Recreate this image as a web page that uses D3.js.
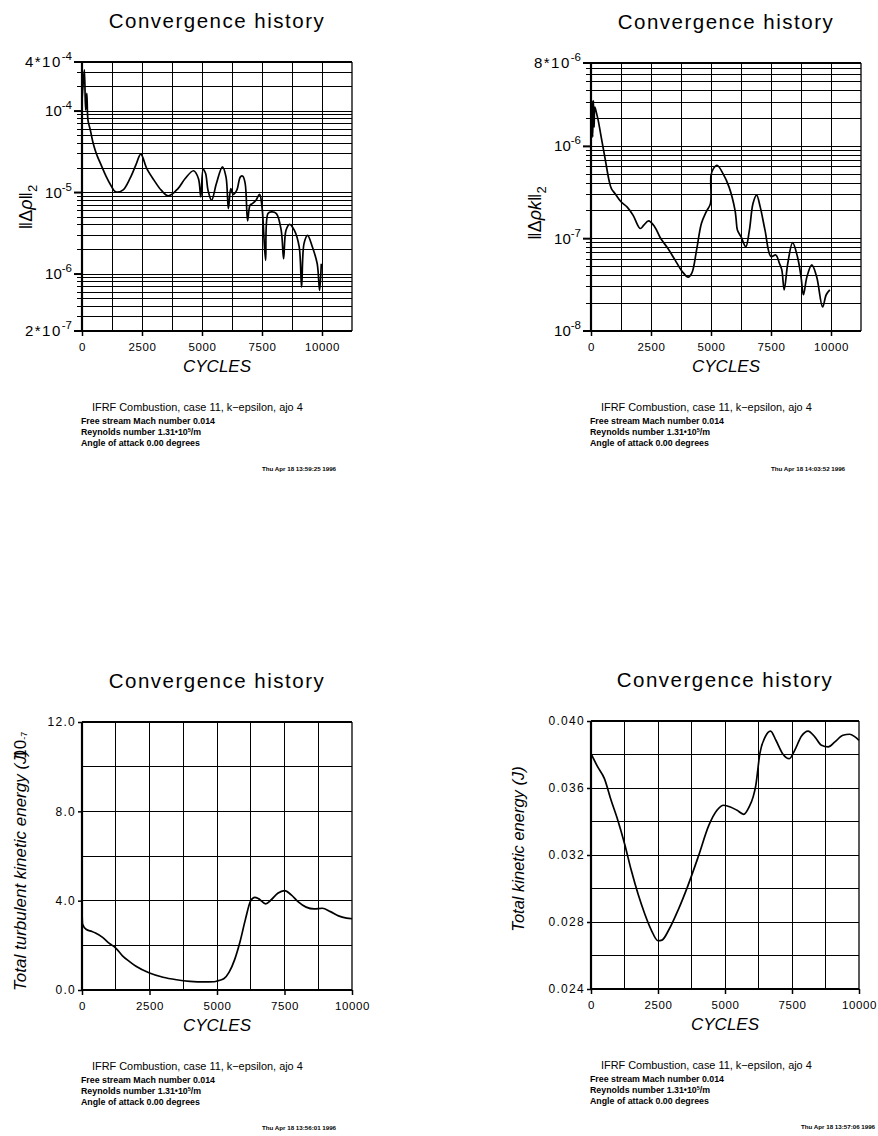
<!DOCTYPE html>
<html>
<head>
<meta charset="utf-8">
<script src="https://cdn.jsdelivr.net/npm/d3@7"></script>
<style>
body { margin: 0; background: #fff; }
text { font-family: "Liberation Sans", Arial, sans-serif; fill: #000; }
</style>
</head>
<body>
<script>
var svgWidth = 878;
var svgHeight = 1136;

// x axis labels, same on every panel
var cycleTicks = [0, 2500, 5000, 7500, 10000];

// panel 1 : density residual
var rhoCycles = [0, 50, 100, 150, 200, 250, 350, 450, 550, 650, 800, 1000, 1200, 1400, 1700, 2000, 2250, 2450, 2700, 3000,
  3300, 3600, 4000, 4300, 4650, 4850, 4950, 5050, 5150, 5250, 5400, 5600, 5850, 6000, 6100, 6200, 6300, 6450, 6600, 6700,
  6800, 6900, 7000, 7100, 7250, 7400, 7500, 7650, 7750, 7900, 8100, 8300, 8400, 8500, 8650, 8850, 9050, 9150, 9250, 9400,
  9600, 9800, 9900, 9970];
var rhoRes = [1.36e-4, 2.2e-4, 3.2e-4, 1.03e-4, 1.65e-4, 7.7e-5, 5.8e-5, 4.2e-5, 3.3e-5, 2.74e-5, 2.17e-5, 1.59e-5, 1.23e-5, 1.02e-5, 1.07e-5, 1.49e-5, 2.2e-5, 2.96e-5, 1.97e-5, 1.42e-5,
  1.07e-5, 9.1e-6, 1.12e-5, 1.49e-5, 1.85e-5, 1.49e-5, 8.85e-6, 1.92e-5, 1.71e-5, 1.07e-5, 8.05e-6, 1.29e-5, 2.07e-5, 1.56e-5, 6.36e-6, 1.12e-5, 9.5e-6, 1.07e-5, 1.56e-5, 1.59e-5,
  1.29e-5, 4.49e-6, 6.99e-6, 7.33e-6, 8.05e-6, 9.5e-6, 6.67e-6, 1.47e-6, 5.52e-6, 5.78e-6, 5.52e-6, 3.44e-6, 1.54e-6, 3.44e-6, 4.08e-6, 3.44e-6, 2.15e-6, 6.9e-7, 2.36e-6, 2.99e-6,
  2.15e-6, 1.34e-6, 6.3e-7, 1.34e-6];
var rhoTickVals = [2e-7, 1e-6, 1e-5, 1e-4, 4e-4];
var rhoTickBase = ["2*10", "10", "10", "10", "4*10"];
var rhoTickExp = ["-7", "-6", "-5", "-4", "-4"];

// panel 2 : turbulent energy residual
var rhoKCycles = [0, 40, 70, 100, 130, 160, 220, 300, 450, 600, 750, 850, 1000, 1250, 1500, 1750, 2050, 2200, 2400, 2650,
  2900, 3200, 3500, 3800, 4050, 4200, 4400, 4600, 4800, 4980, 5000, 5100, 5250, 5500, 5750, 6000, 6050, 6100, 6250, 6450,
  6600, 6750, 6900, 7050, 7250, 7500, 7700, 7850, 7950, 8050, 8200, 8400, 8600, 8750, 8850, 9000, 9200, 9400, 9650, 9800, 9950];
var rhoKRes = [1.07e-6, 3.14e-6, 1.26e-6, 3.14e-6, 1.62e-6, 2.66e-6, 2.35e-6, 1.91e-6, 1.16e-6, 7.06e-7, 4.3e-7, 3.49e-7, 3.08e-7, 2.51e-7, 2.21e-7, 1.8e-7, 1.29e-7, 1.4e-7, 1.56e-7, 1.35e-7,
  1.01e-7, 7.87e-8, 5.89e-8, 4.41e-8, 3.83e-8, 4.23e-8, 7.55e-8, 1.46e-7, 1.95e-7, 2.41e-7, 4.86e-7, 5.74e-7, 6.24e-7, 5.07e-7, 3.64e-7, 2.04e-7, 1.59e-7, 1.24e-7, 1.05e-7, 8.2e-8,
  1.24e-7, 2.41e-7, 2.96e-7, 2.21e-7, 1.24e-7, 6.4e-8, 6.67e-8, 5.42e-8, 4.59e-8, 2.79e-8, 5.42e-8, 9.05e-8, 6.4e-8, 3.89e-8, 2.47e-8, 3.89e-8, 5.2e-8, 3.89e-8, 1.82e-8, 2.47e-8, 2.79e-8];
var rhoKTickVals = [1e-8, 1e-7, 1e-6, 8e-6];
var rhoKTickBase = ["10", "10", "10", "8*10"];
var rhoKTickExp = ["-8", "-7", "-6", "-6"];

// panel 3 : total turbulent kinetic energy (x 10^-7 J)
var tkeCycles = [0, 20, 150, 370, 500, 750, 1000, 1250, 1500, 1750, 2000, 2500, 3000, 3500, 4000, 4500, 4900, 5050, 5250, 5450,
  5650, 5850, 6050, 6250, 6400, 6550, 6800, 7000, 7250, 7500, 7750, 8000, 8300, 8600, 8900, 9200, 9500, 9800, 10000];
var tkeVals = [3.51, 2.96, 2.72, 2.62, 2.55, 2.37, 2.10, 1.88, 1.53, 1.28, 1.06, 0.76, 0.57, 0.46, 0.39, 0.36, 0.37, 0.42, 0.50, 0.80,
  1.35, 2.15, 3.15, 4.00, 4.15, 4.08, 3.86, 4.03, 4.33, 4.45, 4.26, 3.96, 3.71, 3.63, 3.66, 3.51, 3.32, 3.22, 3.19];
var tkeTickVals = [0, 4, 8, 12];

// panel 4 : total kinetic energy (J)
var keCycles = [0, 250, 500, 750, 1000, 1250, 1500, 1750, 2000, 2250, 2500, 2650, 2900, 3250, 3600, 4000, 4400, 4700, 4950, 5200,
  5450, 5700, 5900, 6050, 6150, 6300, 6500, 6700, 6900, 7150, 7400, 7600, 7850, 8100, 8350, 8600, 8850, 9100, 9400, 9650, 9850, 10000];
var keVals = [0.03805, 0.03726, 0.03656, 0.03527, 0.03408, 0.03269, 0.03110, 0.02970, 0.02851, 0.02752, 0.02688, 0.02692, 0.02752, 0.02871, 0.03010, 0.03189, 0.03378, 0.03467, 0.03497, 0.03487,
  0.03467, 0.03443, 0.03487, 0.03547, 0.03616, 0.03805, 0.03905, 0.03940, 0.03885, 0.03805, 0.03775, 0.03825, 0.03909, 0.03940, 0.03905, 0.03855, 0.03845, 0.03875, 0.03915, 0.03921, 0.03905, 0.03885];
var keTickVals = [0.024, 0.028, 0.032, 0.036, 0.040];

// footer text
var caseTitle = "IFRF Combustion, case 11, k\u2212epsilon, ajo 4";
var dates = ["Thu Apr 18 13:59:25 1996", "Thu Apr 18 14:03:52 1996", "Thu Apr 18 13:56:01 1996", "Thu Apr 18 13:57:06 1996"];

var svg = d3.select("body")
  .append("svg")
  .attr("width", svgWidth)
  .attr("height", svgHeight);

function drawPanel(p) {
  var g = svg.append("g")
    .attr("transform", `translate(${p.left}, ${p.top})`);

  var x = d3.scaleLinear().domain([0, p.xMax]).range([0, p.width]);
  var y = (p.log ? d3.scaleLog() : d3.scaleLinear())
    .domain(p.yDomain)
    .range([p.height, 0]);

  // grid
  g.append("g").selectAll("line")
    .data(d3.range(1250, p.xMax - 1, 1250))
    .enter().append("line")
    .attr("x1", d => x(d)).attr("x2", d => x(d))
    .attr("y1", 0).attr("y2", p.height)
    .attr("stroke", "#000").attr("stroke-width", 1)
    .attr("shape-rendering", "crispEdges");

  var gridY = p.log ? y.ticks() : d3.range(p.yDomain[0], p.yDomain[1] + p.yStep / 2, p.yStep);
  g.append("g").selectAll("line")
    .data(gridY)
    .enter().append("line")
    .attr("x1", p.log ? -5 : 0).attr("x2", p.width)
    .attr("y1", d => y(d)).attr("y2", d => y(d))
    .attr("stroke", "#000").attr("stroke-width", 1)
    .attr("shape-rendering", "crispEdges");

  // frame
  g.append("line").attr("x1", 0).attr("x2", p.width).attr("y1", 0).attr("y2", 0)
    .attr("stroke", "#000").attr("stroke-width", 2.2);
  g.append("line").attr("x1", 0).attr("x2", p.width).attr("y1", p.height).attr("y2", p.height)
    .attr("stroke", "#000").attr("stroke-width", 2.2);
  g.append("line").attr("x1", 0).attr("x2", 0).attr("y1", 0).attr("y2", p.height)
    .attr("stroke", "#000").attr("stroke-width", 2.2);
  g.append("line").attr("x1", p.width).attr("x2", p.width).attr("y1", 0).attr("y2", p.height)
    .attr("stroke", "#000").attr("stroke-width", 1.3);

  // x axis
  var bottomAxis = d3.axisBottom(x)
    .tickValues(cycleTicks)
    .tickSize(5)
    .tickPadding(7)
    .tickFormat(d3.format("d"));
  var xg = g.append("g")
    .attr("transform", `translate(0,${p.height})`)
    .call(bottomAxis);
  xg.select(".domain").remove();
  xg.selectAll("line").attr("stroke-width", 1.5);
  xg.selectAll("text")
    .style("font-size", "11.5px")
    .style("letter-spacing", "0.6px")
    .attr("fill", "#000");

  // y axis
  if (p.log) {
    g.append("g").selectAll("line")
      .data(p.tickVals)
      .enter().append("line")
      .attr("x1", -8).attr("x2", 0)
      .attr("y1", d => y(d)).attr("y2", d => y(d))
      .attr("stroke", "#000").attr("stroke-width", 2);
    var lab = g.append("g").selectAll("text")
      .data(p.tickVals)
      .enter().append("text")
      .attr("x", -10)
      .attr("y", d => y(d) + 5)
      .attr("text-anchor", "end")
      .style("font-size", "15px");
    lab.append("tspan")
      .style("letter-spacing", (d, i) => p.tickBase[i].indexOf("*") >= 0 ? "1.5px" : "0px")
      .text((d, i) => p.tickBase[i]);
    lab.append("tspan").attr("dy", -7).style("font-size", "11.5px").text((d, i) => p.tickExp[i]);
  } else {
    var leftAxis = d3.axisLeft(y)
      .tickValues(p.tickVals)
      .tickSize(4)
      .tickPadding(2)
      .tickFormat(d3.format(p.fmt));
    var yg = g.append("g").call(leftAxis);
    yg.select(".domain").remove();
    yg.selectAll("line").attr("stroke-width", 1.5);
    yg.selectAll("text")
      .style("font-size", "12px")
      .style("letter-spacing", "1.3px")
      .attr("fill", "#000");
  }

  // the curve
  var line = d3.line()
    .x(d => x(d[0]))
    .y(d => y(d[1]))
    .curve(p.log ? d3.curveCatmullRom.alpha(0.5) : d3.curveMonotoneX);
  g.append("path")
    .datum(d3.zip(p.xs, p.ys))
    .attr("d", line)
    .attr("fill", "none")
    .attr("stroke", "#000")
    .attr("stroke-width", 1.7);

  // title + x label
  svg.append("text")
    .attr("x", p.left + p.width / 2)
    .attr("y", p.top - 34)
    .attr("text-anchor", "middle")
    .style("font-size", "20.5px")
    .style("letter-spacing", "1.5px")
    .text("Convergence history");
  svg.append("text")
    .attr("x", p.left + p.width / 2)
    .attr("y", p.top + p.height + 41)
    .attr("text-anchor", "middle")
    .style("font-size", "17px")
    .style("font-style", "italic")
    .text("CYCLES");

  // footer
  var fx = p.left + 10;
  var fy = p.top + p.height;
  svg.append("text")
    .attr("x", fx).attr("y", fy + 80)
    .style("font-size", "10.9px")
    .text(caseTitle);
  svg.append("text")
    .attr("x", fx - 11).attr("y", fy + 93)
    .style("font-size", "8.8px").style("font-weight", "bold")
    .text("Free stream Mach number  0.014");
  var re = svg.append("text")
    .attr("x", fx - 11).attr("y", fy + 104)
    .style("font-size", "8.8px").style("font-weight", "bold");
  re.append("tspan").text("Reynolds number  1.31\u202210");
  re.append("tspan").attr("dy", -3.5).style("font-size", "5.5px").text("5");
  re.append("tspan").attr("dy", 3.5).text("/m");
  svg.append("text")
    .attr("x", fx - 11).attr("y", fy + 115)
    .style("font-size", "8.8px").style("font-weight", "bold")
    .text("Angle of attack  0.00 degrees");
  svg.append("text")
    .attr("x", fx + p.dateDx).attr("y", fy + 140)
    .style("font-size", "6.2px").style("font-weight", "bold")
    .text(p.date);
}

drawPanel({left: 82, top: 62, width: 270, height: 269, xMax: 11250, log: true, yDomain: [2e-7, 4e-4],
  xs: rhoCycles, ys: rhoRes, tickVals: rhoTickVals, tickBase: rhoTickBase, tickExp: rhoTickExp, date: dates[0], dateDx: 170});
drawPanel({left: 591, top: 63, width: 270, height: 268, xMax: 11250, log: true, yDomain: [1e-8, 8e-6],
  xs: rhoKCycles, ys: rhoKRes, tickVals: rhoKTickVals, tickBase: rhoKTickBase, tickExp: rhoKTickExp, date: dates[1], dateDx: 170});
drawPanel({left: 82, top: 722, width: 270, height: 268, xMax: 10000, log: false, yDomain: [0, 12], yStep: 2,
  xs: tkeCycles, ys: tkeVals, tickVals: tkeTickVals, fmt: ".1f", date: dates[2], dateDx: 170});
drawPanel({left: 591, top: 721, width: 268, height: 268, xMax: 10000, log: false, yDomain: [0.024, 0.040], yStep: 0.002,
  xs: keCycles, ys: keVals, tickVals: keTickVals, fmt: ".3f", date: dates[3], dateDx: 200});

// y axis titles
var t1 = svg.append("text")
  .attr("transform", "translate(32, 207) rotate(-90)")
  .attr("text-anchor", "middle")
  .style("font-size", "18px");
t1.append("tspan").text("\u2016\u0394");
t1.append("tspan").style("font-style", "italic").text("\u03c1");
t1.append("tspan").text("\u2016");
t1.append("tspan").attr("dy", 5).style("font-size", "13px").text("2");

var t2 = svg.append("text")
  .attr("transform", "translate(541, 213) rotate(-90)")
  .attr("text-anchor", "middle")
  .style("font-size", "18px");
t2.append("tspan").text("\u2016\u0394");
t2.append("tspan").style("font-style", "italic").text("\u03c1k");
t2.append("tspan").text("\u2016");
t2.append("tspan").attr("dy", 5).style("font-size", "13px").text("2");

var t3 = svg.append("text")
  .attr("transform", "translate(26, 991) rotate(-90)")
  .style("font-size", "17px")
  .style("font-style", "italic");
t3.append("tspan").text("Total turbulent kinetic energy (J)");
t3.append("tspan").attr("dx", -9).style("font-style", "normal").text("10");
t3.append("tspan").attr("dy", 1).style("font-size", "9px").style("font-style", "normal").text("-7");

svg.append("text")
  .attr("transform", "translate(524, 849) rotate(-90)")
  .attr("text-anchor", "middle")
  .style("font-size", "16.5px")
  .style("font-style", "italic")
  .text("Total kinetic energy (J)");
</script>
</body>
</html>
